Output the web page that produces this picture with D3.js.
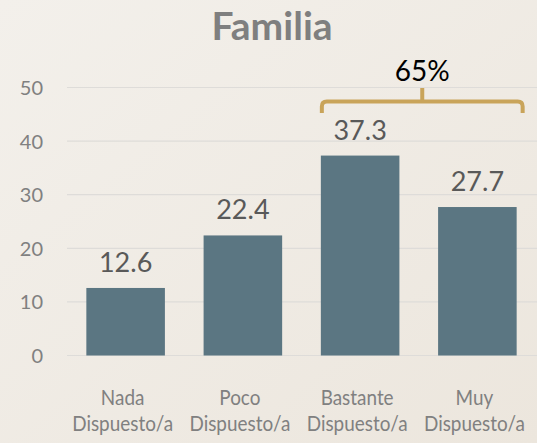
<!DOCTYPE html>
<html><head><meta charset="utf-8">
<script src="https://cdn.jsdelivr.net/npm/d3@7"></script>
<style>html,body{margin:0;padding:0;overflow:hidden;background:#f0ebe4;}svg{display:block;}</style>
</head><body>
<script>
const categories = [["Nada","Dispuesto/a"],["Poco","Dispuesto/a"],["Bastante","Dispuesto/a"],["Muy","Dispuesto/a"]];
const values = [12.6, 22.4, 37.3, 27.7];
const yTicks = [0, 10, 20, 30, 40, 50];
const title = "Familia";
const braceLabel = "65%";
const braceFrom = 2, braceTo = 3;

const W = 537, H = 443;
const font = "Lato, 'Open Sans', sans-serif";
const svg = d3.select("body").append("svg").attr("width", W).attr("height", H);
const defs = svg.append("defs");
const grad = defs.append("linearGradient").attr("id","bg").attr("x1","0").attr("y1","0").attr("x2","1").attr("y2","1");
grad.append("stop").attr("offset","0%").attr("stop-color","#f3f0eb");
grad.append("stop").attr("offset","100%").attr("stop-color","#ece6dd");
svg.append("rect").attr("width",W).attr("height",H).attr("fill","url(#bg)");

const x = d3.scaleBand().domain(d3.range(values.length)).range([67, 536]).paddingInner(0.33).paddingOuter(0.165);
const y = d3.scaleLinear().domain([0, 50]).range([355.5, 87.5]);

// gridlines
svg.append("g").selectAll("line").data(yTicks).join("line")
  .attr("x1", 67).attr("x2", 537)
  .attr("y1", d => y(d)).attr("y2", d => y(d))
  .attr("stroke", "#dedcd9").attr("stroke-width", 1.2);

// y axis labels
const yAxis = d3.axisLeft(y).tickValues(yTicks).tickSize(0).tickPadding(0);
const ya = svg.append("g").attr("transform","translate(43,0)").call(yAxis);
ya.select(".domain").remove();
ya.selectAll("text").attr("font-family", font).attr("font-size", 20).attr("fill", "#808080").attr("dy","0.35em");

// bars
svg.append("g").selectAll("rect").data(values).join("rect")
  .attr("x", (d,i) => x(i)).attr("width", x.bandwidth())
  .attr("y", d => y(d)).attr("height", d => y(0) - y(d))
  .attr("fill", "#5b7682");

// value labels
svg.append("g").selectAll("text").data(values).join("text")
  .attr("x", (d,i) => x(i) + x.bandwidth()/2)
  .attr("y", d => y(d) - 16)
  .attr("text-anchor","middle")
  .attr("font-family", font).attr("font-size", 27).attr("fill", "#595959")
  .text(d => d.toFixed(1));

// category labels (condensed to mimic narrow font)
const cat = svg.append("g").selectAll("text").data(categories).join("text")
  .attr("text-anchor","middle")
  .attr("transform", (d,i) => `translate(${x(i) + x.bandwidth()/2 - 3},0) scale(0.86,1)`)
  .attr("font-family", font).attr("font-size", 22).attr("fill", "#808080");
cat.each(function(d,i){
  const t = d3.select(this);
  t.append("tspan").attr("x", 0).attr("y", 405).text(d[0]);
  t.append("tspan").attr("x", 0).attr("y", 431).text(d[1]);
});

// title
svg.append("text").attr("x", 272).attr("y", 40).attr("text-anchor","middle")
  .attr("font-family", font).attr("font-weight","bold").attr("font-size", 39).attr("fill","#7f7f7f")
  .text(title);

// brace
const bx0 = x(braceFrom) + 1, bx1 = x(braceTo) + x.bandwidth() + 6;
const bm = (bx0 + bx1) / 2;
const by = 101.5, r = 5;
svg.append("path")
  .attr("d", `M${bx0},113 L${bx0},${by+r} Q${bx0},${by} ${bx0+r},${by} L${bx1-r},${by} Q${bx1},${by} ${bx1},${by+r} L${bx1},113 M${bm},${by} L${bm},88`)
  .attr("fill","none").attr("stroke","#c9a45a").attr("stroke-width",4).attr("stroke-linecap","butt");

svg.append("text").attr("x", bm).attr("y", 81).attr("text-anchor","middle")
  .attr("font-family", font).attr("font-size", 28).attr("fill","#000")
  .text(braceLabel);
</script>
</body></html>
